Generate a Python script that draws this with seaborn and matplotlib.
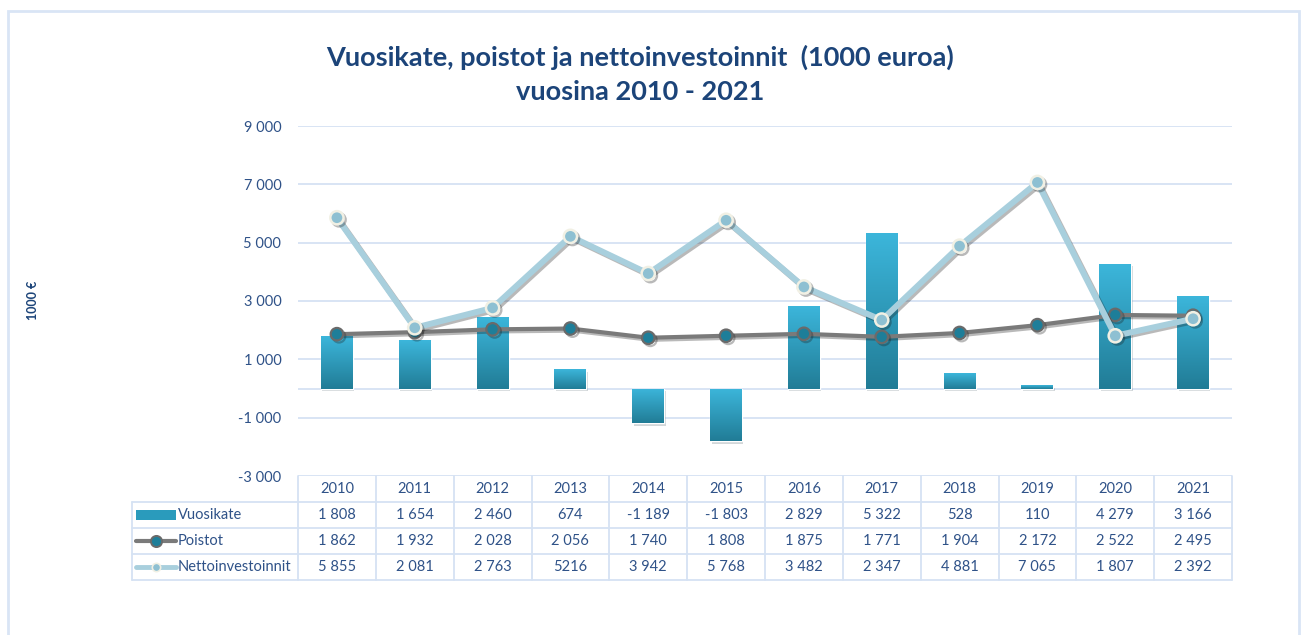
import numpy as np
import pandas as pd
import matplotlib
matplotlib.use("Agg")
import matplotlib.pyplot as plt
import matplotlib.patheffects as pe
from matplotlib.colors import to_rgb
from matplotlib.patches import Rectangle
import seaborn as sns

# Data (1000 euroa)
years = [2010, 2011, 2012, 2013, 2014, 2015, 2016, 2017, 2018, 2019, 2020, 2021]
vuosikate = [1808, 1654, 2460, 674, -1189, -1803, 2829, 5322, 528, 110, 4279, 3166]
poistot = [1862, 1932, 2028, 2056, 1740, 1808, 1875, 1771, 1904, 2172, 2522, 2495]
netto = [5855, 2081, 2763, 5216, 3942, 5768, 3482, 2347, 4881, 7065, 1807, 2392]
y_ticks = [-3000, -1000, 1000, 3000, 5000, 7000, 9000]


def fmt(v):
    return f"{v:,}".replace(",", " ")


netto_text = [fmt(v) for v in netto]
netto_text[3] = "5216"  # written without a space in the original table

TITLE = "#1C4479"
TXT = "#2F5288"
GRID = "#D5E2F3"
BAR_TOP, BAR_BOT = "#3CB6DB", "#217C96"
GRAY, GRAY_MK = "#7A7A7A", "#1E7E99"
LIGHT, LIGHT_MK = "#A8CFDD", "#8EC0D2"

sns.set_theme(style="white")
plt.rcParams["font.family"] = ["Lato", "DejaVu Sans"]

W, H = 1301, 635
fig = plt.figure(figsize=(W / 100, H / 100), dpi=100)
ax = fig.add_axes([298 / W, 1 - 476 / H, 934 / W, 350 / H])

df = pd.DataFrame({
    "Vuosi": [str(y) for y in years],
    "pos": np.arange(len(years)),
    "Vuosikate": vuosikate,
    "Poistot": poistot,
    "Nettoinvestoinnit": netto,
})

sns.barplot(data=df, x="Vuosi", y="Vuosikate", color=BAR_BOT, saturation=1,
            width=0.41, ax=ax, zorder=2)

# vertical gradient on bars
g = np.linspace(0, 1, 256)[:, None, None]
img = np.array(to_rgb(BAR_TOP)) * (1 - g) + np.array(to_rgb(BAR_BOT)) * g
for bar in list(ax.patches):
    bar.set_path_effects([pe.SimplePatchShadow(offset=(1, -2), alpha=0.18), pe.Normal()])
    x0, w = bar.get_x(), bar.get_width()
    y0, h = bar.get_y(), bar.get_height()
    lo, hi = min(y0, y0 + h), max(y0, y0 + h)
    im = ax.imshow(img, extent=[x0, x0 + w, lo, hi], aspect="auto",
                   origin="upper", zorder=2.1)
    im.set_clip_path(bar)

shadow = [pe.SimpleLineShadow(offset=(1.5, -1.5), alpha=0.3), pe.Normal()]
sns.lineplot(data=df, x="pos", y="Poistot", color=GRAY, linewidth=3,
             marker="o", markersize=9, markerfacecolor=GRAY_MK,
             markeredgecolor="#6A6A6A", markeredgewidth=1.6,
             path_effects=shadow, ax=ax, zorder=4)
sns.lineplot(data=df, x="pos", y="Nettoinvestoinnit", color=LIGHT, linewidth=4.3,
             marker="o", markersize=9.5, markerfacecolor=LIGHT_MK,
             markeredgecolor="#F1F0E4", markeredgewidth=1.8,
             path_effects=shadow, ax=ax, zorder=5)

ax.set_xlim(-0.5, len(years) - 0.5)
ax.set_ylim(-3000, 9000)
ax.set_yticks(y_ticks)
ax.set_yticklabels([fmt(v) for v in y_ticks])
ax.set_xticks([])
ax.set_xlabel("")
ax.set_ylabel("")
ax.yaxis.grid(True, color=GRID, linewidth=1.3)
ax.axhline(0, color=GRID, linewidth=1.3, zorder=1)
ax.set_axisbelow(True)
for s in ax.spines.values():
    s.set_visible(False)
ax.tick_params(axis="y", length=0, pad=12, labelsize=10.5, labelcolor=TXT)


# data table under the plot (pixel layout helpers -> axes fraction)
def axx(px):
    return (px - 298) / 934


def axy(py):
    return (476 - py) / 350


n = len(years)
tline = dict(color=GRID, linewidth=1.3, transform=ax.transAxes, clip_on=False, zorder=1)
for py in [502, 528, 554, 580]:
    ax.plot([axx(132), 1], [axy(py), axy(py)], **tline)
ax.plot([axx(132), axx(132)], [axy(502), axy(580)], **tline)
for i in range(n + 1):
    ax.plot([i / n, i / n], [0, axy(580)], **tline)

rows = [
    ("Vuosikate", [fmt(v) for v in vuosikate], 515),
    ("Poistot", [fmt(v) for v in poistot], 541),
    ("Nettoinvestoinnit", netto_text, 567),
]
for i, y in enumerate(years):
    ax.text((i + 0.5) / n, axy(489), str(y), ha="center", va="center",
            fontsize=10.5, color=TXT, transform=ax.transAxes)
for name, vals, py in rows:
    ax.text(axx(178), axy(py), name, ha="left", va="center",
            fontsize=10.5, color=TXT, transform=ax.transAxes)
    for i, t in enumerate(vals):
        ax.text((i + 0.5) / n, axy(py), t, ha="center", va="center",
                fontsize=10.5, color=TXT, transform=ax.transAxes)

# legend keys in the table
ax.add_patch(Rectangle((axx(136), axy(520)), axx(176) - axx(136), axy(510) - axy(520),
                       facecolor="#2A9BBC", edgecolor="none",
                       transform=ax.transAxes, clip_on=False))
ax.plot([axx(136), axx(176)], [axy(541)] * 2, color=GRAY, linewidth=3,
        transform=ax.transAxes, clip_on=False)
ax.plot([axx(156)], [axy(541)], marker="o", markersize=8, color=GRAY_MK,
        markeredgecolor="#6A6A6A", markeredgewidth=1.4,
        transform=ax.transAxes, clip_on=False)
ax.plot([axx(136), axx(176)], [axy(567)] * 2, color=LIGHT, linewidth=3.5,
        transform=ax.transAxes, clip_on=False)
ax.plot([axx(156)], [axy(567)], marker="o", markersize=6, color=LIGHT_MK,
        markeredgecolor="#F1F0E4", markeredgewidth=1.2,
        transform=ax.transAxes, clip_on=False)

# titles and axis label
fig.text(640 / W, 1 - 57 / H, "Vuosikate, poistot ja nettoinvestoinnit  (1000 euroa)",
         ha="center", va="center", fontsize=19.5, fontweight="bold", color=TITLE)
fig.text(640 / W, 1 - 92 / H, "vuosina 2010 - 2021",
         ha="center", va="center", fontsize=19.5, fontweight="bold", color=TITLE)
fig.text(33 / W, 1 - 300 / H, "1000 €", rotation=90, ha="center", va="center",
         fontsize=9, fontweight="bold", color=TITLE)

# outer chart frame
fig.add_artist(Rectangle((8 / W, -0.05), (1299 - 8) / W, 1 - 11 / H + 0.05,
                         fill=False, edgecolor="#D9E5F5", linewidth=2,
                         transform=fig.transFigure))

fig.savefig("out.png", dpi=100)
